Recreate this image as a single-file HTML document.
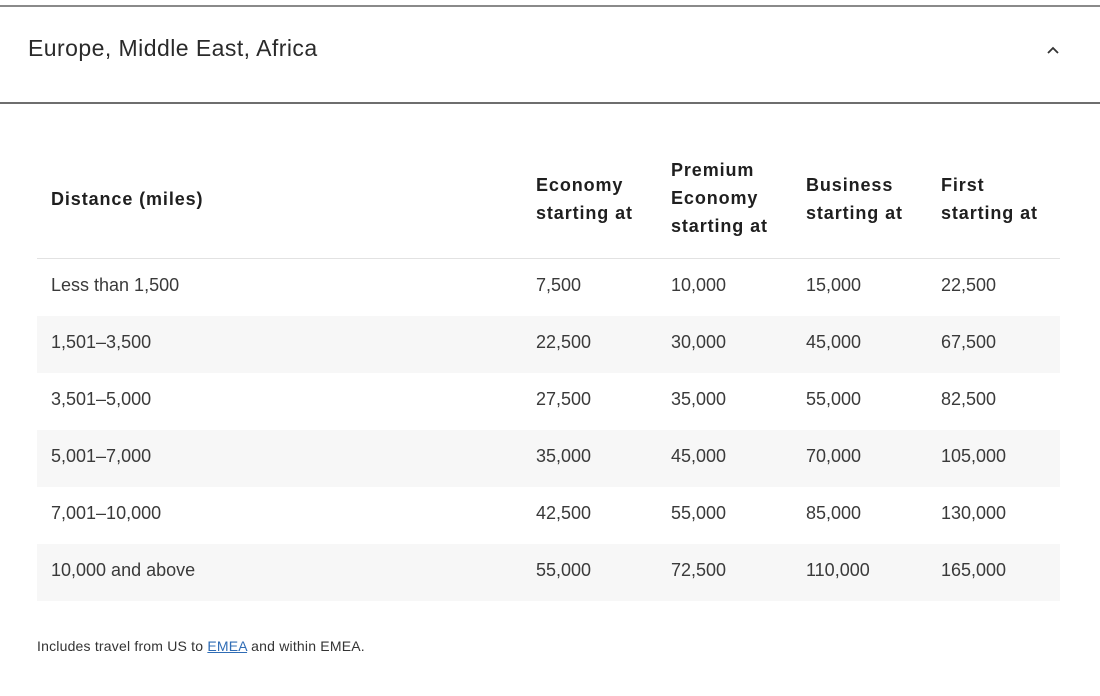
<!DOCTYPE html>
<html><head><meta charset="utf-8"><style>
body{margin:0;width:1100px;height:696px;background:#fff;font-family:"Liberation Sans",sans-serif;color:#2e2e2e;position:relative;overflow:hidden}
.a{position:absolute;white-space:nowrap}
.h{font-weight:bold;font-size:18px;line-height:28px;color:#1f1f1f;letter-spacing:0.9px}
.c{font-size:18px;color:#3a3a3a}
.row{position:absolute;left:37px;width:1023px;height:57px}
</style></head><body>
<div class="a" style="left:0;top:5px;width:1100px;height:2px;background:#8a8a8a"></div>
<div class="a" style="left:28px;top:35px;font-size:23px;color:#2a2a2a;letter-spacing:0.45px">Europe, Middle East, Africa</div>
<svg class="a" style="left:1046px;top:45px" width="14" height="10"><polyline points="2,8 7,3 12,8" fill="none" stroke="#333" stroke-width="1.8"/></svg>
<div class="a" style="left:0;top:102px;width:1100px;height:2px;background:#6e6e6e"></div>

<div class="a h" style="left:51px;top:185px">Distance (miles)</div>
<div class="a h" style="left:536px;top:171px">Economy<br>starting at</div>
<div class="a h" style="left:671px;top:156px">Premium<br>Economy<br>starting at</div>
<div class="a h" style="left:806px;top:171px">Business<br>starting at</div>
<div class="a h" style="left:941px;top:171px">First<br>starting at</div>
<div class="a" style="left:37px;top:258px;width:1023px;height:1px;background:#e2e2e2"></div>

<div class="row" style="top:316px;background:#f7f7f7"></div>
<div class="row" style="top:430px;background:#f7f7f7"></div>
<div class="row" style="top:544px;background:#f7f7f7"></div>

<div class="a c" style="left:51px;top:275px">Less than 1,500</div><div class="a c" style="left:536px;top:275px">7,500</div><div class="a c" style="left:671px;top:275px">10,000</div><div class="a c" style="left:806px;top:275px">15,000</div><div class="a c" style="left:941px;top:275px">22,500</div>
<div class="a c" style="left:51px;top:332px">1,501–3,500</div><div class="a c" style="left:536px;top:332px">22,500</div><div class="a c" style="left:671px;top:332px">30,000</div><div class="a c" style="left:806px;top:332px">45,000</div><div class="a c" style="left:941px;top:332px">67,500</div>
<div class="a c" style="left:51px;top:389px">3,501–5,000</div><div class="a c" style="left:536px;top:389px">27,500</div><div class="a c" style="left:671px;top:389px">35,000</div><div class="a c" style="left:806px;top:389px">55,000</div><div class="a c" style="left:941px;top:389px">82,500</div>
<div class="a c" style="left:51px;top:446px">5,001–7,000</div><div class="a c" style="left:536px;top:446px">35,000</div><div class="a c" style="left:671px;top:446px">45,000</div><div class="a c" style="left:806px;top:446px">70,000</div><div class="a c" style="left:941px;top:446px">105,000</div>
<div class="a c" style="left:51px;top:503px">7,001–10,000</div><div class="a c" style="left:536px;top:503px">42,500</div><div class="a c" style="left:671px;top:503px">55,000</div><div class="a c" style="left:806px;top:503px">85,000</div><div class="a c" style="left:941px;top:503px">130,000</div>
<div class="a c" style="left:51px;top:560px">10,000 and above</div><div class="a c" style="left:536px;top:560px">55,000</div><div class="a c" style="left:671px;top:560px">72,500</div><div class="a c" style="left:806px;top:560px">110,000</div><div class="a c" style="left:941px;top:560px">165,000</div>

<div class="a" style="left:37px;top:638px;font-size:14px;color:#333;letter-spacing:0.2px">Includes travel from US to <span style="color:#2f6cb5;text-decoration:underline">EMEA</span> and within EMEA.</div>
</body></html>
